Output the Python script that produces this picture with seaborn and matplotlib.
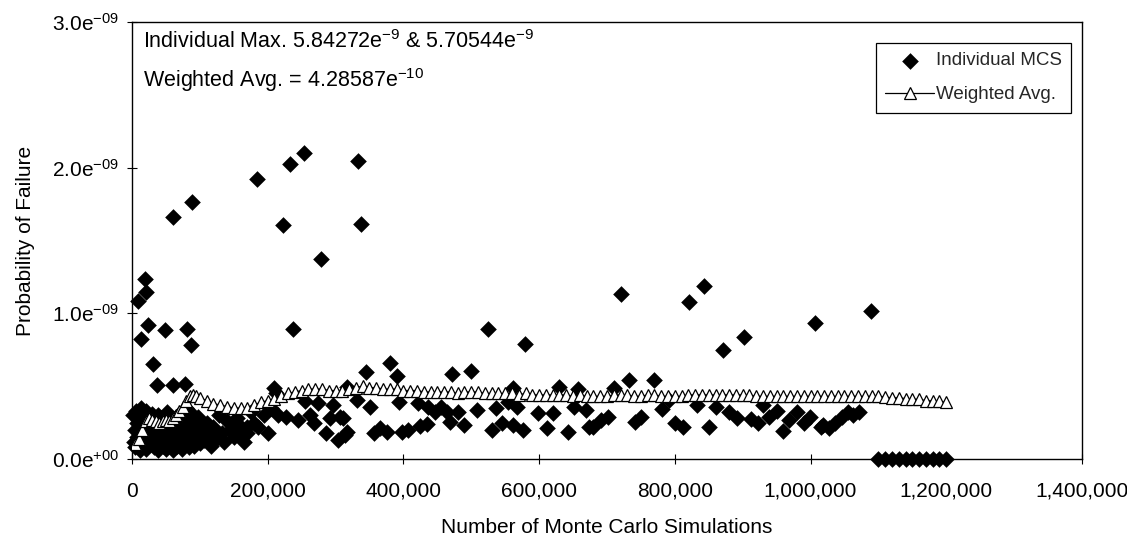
import matplotlib
matplotlib.use("Agg")
import matplotlib.pyplot as plt
import seaborn as sns

sns.set_theme(style="white")
plt.rcParams['font.family'] = ['Liberation Sans', 'DejaVu Sans']
plt.rcParams['mathtext.default'] = 'regular'

# ---------------- data (x in thousands of simulations, y in units of 1e-9) ----------------
early_x = [2, 3, 4, 5, 6, 7, 8, 9, 10, 11, 12, 13, 14, 15, 16, 17, 18, 19, 20, 21, 22, 24, 25, 26, 28, 29, 30,
           32, 33, 35, 36, 38, 39, 40, 42, 43, 45, 46, 48, 49, 50, 52, 53, 55, 56, 58, 60, 61, 63, 65, 66, 68,
           70, 72, 73, 75, 77, 78, 80, 82, 84, 85, 87, 89, 90, 92, 94, 96, 98, 100, 103, 106, 110, 113, 116,
           120, 124, 128, 132, 136, 140, 145, 150, 155, 160, 165, 170, 175, 180]
early_y = [0.30, 0.12, 0.20, 0.08, 0.33, 0.15, 0.25, 0.10, 0.28, 0.18, 0.06, 0.35, 0.22, 0.12, 0.30, 0.09, 0.26,
           0.16, 0.33, 0.07, 0.20, 0.13, 0.29, 0.10, 0.24, 0.31, 0.15, 0.08, 0.27, 0.19, 0.11, 0.30, 0.06, 0.22,
           0.14, 0.28, 0.09, 0.18, 0.25, 0.12, 0.07, 0.32, 0.16, 0.21, 0.10, 0.28, 0.14, 0.06, 0.24, 0.18, 0.09,
           0.30, 0.13, 0.22, 0.07, 0.27, 0.15, 0.10, 0.35, 0.19, 0.08, 0.26, 0.12, 0.31, 0.17, 0.09, 0.23, 0.14,
           0.29, 0.11, 0.20, 0.13, 0.25, 0.16, 0.09, 0.22, 0.14, 0.30, 0.18, 0.12, 0.26, 0.20, 0.15, 0.28, 0.22,
           0.12, 0.18, 0.32, 0.25]

high_x = [8.8, 13.3, 18.5, 20.7, 23.6, 31.7, 36.9, 48.7, 60.3, 60.5, 78.2, 81.2, 87.1, 88.2, 183.8, 222.0,
          232.4, 237.6, 252.9, 278.0, 332.4, 338.2, 209.6, 720.0, 843.0, 820.6, 1006.5, 901.7, 870.8, 1089.0,
          525.4, 578.6]
high_y = [1.085, 0.824, 1.239, 1.146, 0.920, 0.652, 0.508, 0.885, 1.658, 0.508, 0.515, 0.892, 0.782, 1.767,
          1.925, 1.603, 2.027, 0.892, 2.103, 1.370, 2.048, 1.616, 0.487, 1.130, 1.190, 1.078, 0.934, 0.837,
          0.748, 1.016, 0.892, 0.789]

mid_x = [156, 170, 149, 227, 215, 274, 263, 297, 286, 292, 307, 303, 317, 185, 195, 200, 205, 212, 245, 255,
         268, 311, 314, 317, 331, 345, 351, 356, 366, 376, 381, 391, 394, 398, 407, 421, 425, 435, 437, 447,
         455, 465, 469, 471, 480, 489, 499, 509, 531, 536, 546, 554, 561, 562, 568, 576, 599, 611, 620, 629,
         642, 651, 658, 673]
mid_y = [0.178, 0.220, 0.254, 0.288, 0.300, 0.384, 0.300, 0.370, 0.178, 0.280, 0.288, 0.130, 0.185, 0.22,
         0.30, 0.18, 0.35, 0.45, 0.27, 0.40, 0.25, 0.280, 0.165, 0.494, 0.405, 0.597, 0.357, 0.178, 0.213,
         0.185, 0.659, 0.570, 0.390, 0.185, 0.200, 0.384, 0.226, 0.240, 0.357, 0.323, 0.357, 0.323, 0.254,
         0.583, 0.323, 0.233, 0.604, 0.336, 0.200, 0.350, 0.247, 0.391, 0.233, 0.487, 0.357, 0.200, 0.316,
         0.213, 0.316, 0.494, 0.185, 0.357, 0.480, 0.220]

late_x = [669, 680, 691, 701, 710, 732, 742, 750, 770, 781, 791, 801, 812, 832, 850, 860, 880, 891, 912, 922,
          930, 939, 950, 959, 968, 980, 990, 999, 1018, 1015, 1027, 1036, 1047, 1055, 1063, 1071]
late_y = [0.336, 0.220, 0.268, 0.288, 0.487, 0.542, 0.254, 0.288, 0.542, 0.343, 0.405, 0.247, 0.220, 0.371,
          0.220, 0.357, 0.323, 0.281, 0.275, 0.247, 0.371, 0.288, 0.329, 0.192, 0.268, 0.323, 0.247, 0.288,
          0.233, 0.220, 0.210, 0.250, 0.290, 0.320, 0.300, 0.320]

zero_x = [1100, 1110, 1120, 1130, 1140, 1150, 1160, 1170, 1180, 1190, 1200]
zero_y = [0, 0, 0, 0, 0, 0, 0, 0, 0, 0, 0]

avg_x = [5, 10, 15, 20, 25, 30, 35, 40, 45, 50, 55, 60, 65, 70, 75, 80, 85, 90, 95, 100,
         110, 120, 130, 140, 150, 160, 170, 180, 190, 200, 210, 220, 230, 240, 250, 260, 270, 280, 290, 300,
         310, 320, 330, 340, 350, 360, 370, 380, 390, 400, 410, 420, 430, 440, 450, 460, 470, 480, 490, 500,
         510, 520, 530, 540, 550, 560, 570, 580, 590, 600, 610, 620, 630, 640, 650, 660, 670, 680, 690, 700,
         710, 720, 730, 740, 750, 760, 770, 780, 790, 800, 810, 820, 830, 840, 850, 860, 870, 880, 890, 900,
         910, 920, 930, 940, 950, 960, 970, 980, 990, 1000, 1010, 1020, 1030, 1040, 1050, 1060, 1070, 1080,
         1090, 1100, 1110, 1120, 1130, 1140, 1150, 1160, 1170, 1180, 1190, 1200]
avg_y = [0.10, 0.14, 0.20, 0.26, 0.28, 0.27, 0.26, 0.25, 0.26, 0.27, 0.26, 0.28, 0.30, 0.33, 0.36, 0.40, 0.43,
         0.44, 0.43, 0.42,
         0.40, 0.38, 0.37, 0.36, 0.35, 0.35, 0.35, 0.37, 0.39, 0.40, 0.41, 0.43, 0.45, 0.46, 0.47, 0.48, 0.48,
         0.48, 0.47, 0.47,
         0.47, 0.48, 0.49, 0.50, 0.49, 0.49, 0.48, 0.48, 0.48, 0.47, 0.47, 0.47, 0.46, 0.46, 0.46, 0.46, 0.46,
         0.45, 0.46, 0.46,
         0.46, 0.45, 0.45, 0.45, 0.45, 0.45, 0.44, 0.45, 0.44, 0.44, 0.44, 0.44, 0.44, 0.44, 0.43, 0.44, 0.43,
         0.43, 0.43, 0.43,
         0.44, 0.44, 0.44, 0.43, 0.43, 0.44, 0.44, 0.43, 0.43, 0.43, 0.43, 0.44, 0.44, 0.44, 0.44, 0.44, 0.44,
         0.44, 0.44, 0.44,
         0.44, 0.43, 0.43, 0.43, 0.43, 0.43, 0.43, 0.43, 0.43, 0.43, 0.43, 0.43, 0.43, 0.43, 0.43, 0.43, 0.43,
         0.43, 0.43, 0.43, 0.425, 0.42, 0.42, 0.415, 0.41, 0.41, 0.40, 0.40, 0.395, 0.39]

xticks = [0, 200000, 400000, 600000, 800000, 1000000, 1200000, 1400000]
xtick_labels = ['0', '200,000', '400,000', '600,000', '800,000', '1,000,000', '1,200,000', '1,400,000']
yticks = [0, 1, 2, 3]
ytick_labels = [r'0.0e$^{+00}$', r'1.0e$^{-09}$', r'2.0e$^{-09}$', r'3.0e$^{-09}$']

X_UNIT = 1000  # x lists are in thousands of simulations

# ---------------- figure ----------------
fig = plt.figure(figsize=(11.27, 5.48), dpi=100)
ax = fig.add_axes([0.1171, 0.1624, 0.8429, 0.7975])

ind_x = [v * X_UNIT for v in early_x + high_x + mid_x + late_x + zero_x]
ind_y = early_y + high_y + mid_y + late_y + zero_y
sns.scatterplot(x=ind_x, y=ind_y, ax=ax, marker='D', s=72, color='black', edgecolor='black',
                linewidth=0, clip_on=False, zorder=3, label='Individual MCS')

sns.lineplot(x=[v * X_UNIT for v in avg_x], y=avg_y, ax=ax, color='black', lw=0.9, marker='^',
             markersize=8.5, markerfacecolor='white', markeredgecolor='black', markeredgewidth=0.9,
             sort=False, estimator=None, zorder=4, label='Weighted Avg.')

ax.set_xlim(0, 1400000)
ax.set_ylim(0, 3)
ax.set_xticks(xticks, labels=xtick_labels)
ax.set_yticks(yticks, labels=ytick_labels)
ax.tick_params(axis='x', which='major', pad=13)
ax.tick_params(axis='y', which='major', pad=6)
ax.tick_params(axis='both', which='major', direction='inout', length=7, width=0.8, color='black',
               labelsize=15, labelcolor='black', bottom=True, left=True, top=False, right=False)
for sp in ax.spines.values():
    sp.set_color('black')
    sp.set_linewidth(1.0)

ax.set_xlabel('Number of Monte Carlo Simulations', fontsize=15, color='black', labelpad=12)
ax.set_ylabel('Probability of Failure', fontsize=15, color='black', labelpad=12)

ax.text(0.012, 0.955, r'Individual Max. 5.84272e$^{-9}$ & 5.70544e$^{-9}$', transform=ax.transAxes,
        fontsize=15.5, va='center', ha='left', color='black')
ax.text(0.012, 0.868, r'Weighted Avg. = 4.28587e$^{-10}$', transform=ax.transAxes,
        fontsize=15.5, va='center', ha='left', color='black')

leg = ax.legend(loc='upper right', bbox_to_anchor=(0.989, 0.952), fontsize=13.5, frameon=True,
                fancybox=False, framealpha=1, edgecolor='black', borderpad=0.5, handlelength=2.6,
                labelspacing=0.9, handletextpad=0.1, borderaxespad=0)
leg.get_frame().set_linewidth(0.9)

fig.savefig('out.png', dpi=100)
